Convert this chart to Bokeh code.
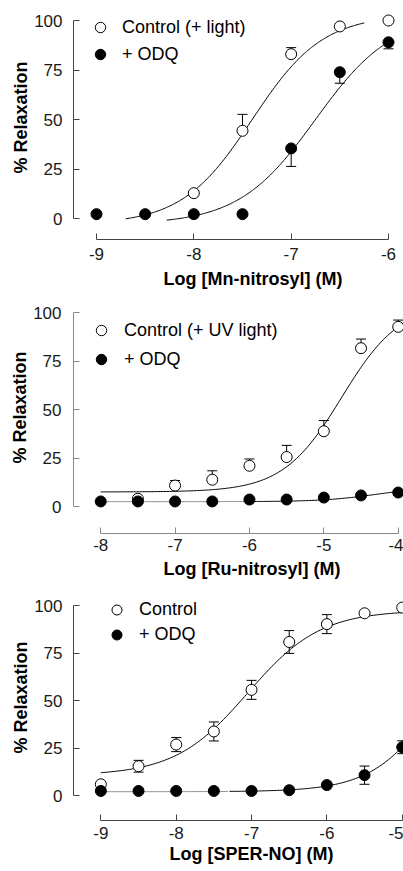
import numpy as np
from bokeh.plotting import figure
from bokeh.layouts import column
from bokeh.models import (Range1d, FixedTicker, Whisker, TeeHead, ColumnDataSource,
                          Legend, LegendItem, Title)
from bokeh.embed import file_html
from bokeh.resources import INLINE

# ---------------- data ----------------
# Panel A: Mn-nitrosyl
mn_ctrl_x = [-8, -7.5, -7, -6.5, -6]
mn_ctrl_y = [12.8, 44.3, 83.0, 97.0, 100.0]
mn_ctrl_err = [0, 8.3, 3.3, 0, 0]
mn_odq_x = [-9, -8.5, -8, -7.5, -7, -6.5, -6]
mn_odq_y = [2.2, 2.2, 2.2, 2.2, 35.4, 73.9, 89.0]
mn_odq_err = [0, 0, 0, 0, 9.1, 5.6, 3.3]
mn_xticks = [-9, -8, -7, -6]
# fitted curves: bottom, top, logEC50, Hill slope, x from, x to
mn_fit_ctrl = [-3, 103, -7.4, 1.2, -8.7, -6.25]
mn_fit_odq = [-3, 103, -6.75, 1.1, -8.28, -6.0]

# Panel B: Ru-nitrosyl
ru_ctrl_x = [-7.5, -7, -6.5, -6, -5.5, -5, -4.5, -4]
ru_ctrl_y = [4.0, 10.8, 13.8, 21.0, 25.5, 38.8, 81.6, 92.6]
ru_ctrl_err = [0, 2.6, 4.6, 3.5, 6.0, 5.5, 4.7, 3.5]
ru_odq_x = [-8, -7.5, -7, -6.5, -6, -5.5, -5, -4.5, -4]
ru_odq_y = [2.6, 2.6, 2.6, 2.6, 3.6, 3.6, 4.6, 5.7, 7.2]
ru_odq_err = [0, 0, 0, 0, 0, 0, 0, 0, 0]
ru_xticks = [-8, -7, -6, -5, -4]
ru_fit_ctrl = [7.5, 105, -4.76, 1.1, -8.0, -4.0]
ru_fit_odq = [2.5, 10, -4.3, 1.2, -8.0, -4.0]

# Panel C: SPER-NO
sp_ctrl_x = [-9, -8.5, -8, -7.5, -7, -6.5, -6, -5.5, -5]
sp_ctrl_y = [5.9, 15.4, 26.8, 33.7, 55.6, 80.8, 90.2, 95.9, 98.9]
sp_ctrl_err = [0, 3.1, 3.7, 5.0, 5.0, 6.0, 5.0, 0, 0]
sp_odq_x = [-9, -8.5, -8, -7.5, -7, -6.5, -6, -5.5, -5]
sp_odq_y = [2.4, 2.4, 2.4, 2.4, 2.4, 2.8, 5.5, 10.7, 25.4]
sp_odq_err = [0, 0, 0, 0, 0, 0, 0, 4.8, 3.4]
sp_xticks = [-9, -8, -7, -6, -5]
sp_fit_ctrl = [10.5, 97.5, -7.05, 0.9, -9.0, -5.0]
sp_fit_odq = [2.0, 100, -4.5, 1.0, -9.0, -5.0]

y_ticks = [0, 25, 50, 75, 100]

FONT = "Liberation Sans"
W = 403


def hill(x, fit):
    bottom, top, logec50, slope = fit[:4]
    return bottom + (top - bottom) / (1 + 10 ** ((logec50 - x) * slope))


def make_panel(g, xt, cx, cy, cerr, cmode, ox, oy, oerr, omode,
               fit_c, fit_o, grey_until, labels, xtitle, axis_color):
    pxx, pxy = g["pxx"], g["pxy"]
    fl, ft, fb, H = g["fl"], g["ft"], g["fb"], g["H"]
    xs = g["x0"] - (g["x0s"] - fl) / pxx
    xe = g["x0"] + (W - g["x0s"]) / pxx
    ys = -(fb - g["y0s"]) / pxy
    ye = (g["y0s"] - ft) / pxy

    p = figure(width=W, height=H, x_range=Range1d(xs, xe), y_range=Range1d(ys, ye),
               output_backend="svg", toolbar_location=None,
               min_border_left=fl, min_border_right=0,
               min_border_top=ft, min_border_bottom=H - fb)
    p.outline_line_color = None
    p.xgrid.visible = False
    p.ygrid.visible = False
    p.background_fill_color = "white"
    p.border_fill_color = "white"

    for ax, ticks in ((p.xaxis, xt), (p.yaxis, y_ticks)):
        ax.ticker = FixedTicker(ticks=ticks)
        ax.bounds = (ticks[0], ticks[-1])
        ax.major_tick_in = 6
        ax.major_tick_out = 0
        ax.minor_tick_line_color = None
        ax.axis_line_color = axis_color
        ax.major_tick_line_color = axis_color
        ax.major_label_text_font = FONT
        ax.major_label_text_font_size = "17px"
        ax.major_label_text_color = "#1a1a1a"
    p.xaxis.major_label_overrides = {t: str(t) for t in xt}
    p.xaxis.major_label_standoff = g["xstand"]
    p.yaxis.major_label_standoff = g["ystand"]

    # fitted curves
    xc = np.linspace(fit_c[4], fit_c[5], 200)
    p.line(xc, hill(xc, fit_c), line_color="black", line_width=1)
    xo = np.linspace(fit_o[4], fit_o[5], 200)
    yo = hill(xo, fit_o)
    if grey_until is not None:
        m1 = xo <= grey_until
        m2 = xo >= grey_until
        p.line(xo[m1], yo[m1], line_color="#8a8a8a", line_width=1)
        p.line(xo[m2], yo[m2], line_color="black", line_width=1)
    else:
        p.line(xo, yo, line_color="black", line_width=1)

    # error bars
    def add_err(xv, yv, ev, mode):
        bx, lo, hi = [], [], []
        for a, b, e in zip(xv, yv, ev):
            if e <= 0:
                continue
            bx.append(a)
            lo.append(b - e if mode in ("down", "both") else b)
            hi.append(b + e if mode in ("up", "both") else b)
        if not bx:
            return
        src = ColumnDataSource(dict(x=bx, lo=lo, hi=hi))
        up = TeeHead(size=10, line_color="black", line_width=1) if mode in ("up", "both") else None
        dn = TeeHead(size=10, line_color="black", line_width=1) if mode in ("down", "both") else None
        w = Whisker(source=src, base="x", lower="lo", upper="hi", dimension="height",
                    line_color="black", line_width=1, upper_head=up, lower_head=dn,
                    level="underlay")
        p.add_layout(w)

    add_err(cx, cy, cerr, cmode)
    add_err(ox, oy, oerr, omode)

    r_c = p.scatter(cx, cy, marker="circle", size=11, fill_color="white",
                    line_color="black", line_width=1)
    r_o = p.scatter(ox, oy, marker="circle", size=11, fill_color="black",
                    line_color="black", line_width=1)

    lg = g["leg"]
    legend = Legend(items=[LegendItem(label=labels[0], renderers=[r_c]),
                           LegendItem(label=labels[1], renderers=[r_o])],
                    location=(lg["vx"], lg["vy"]), padding=0, margin=0,
                    spacing=lg["sp"], glyph_width=lg["gs"], glyph_height=lg["gs"],
                    label_standoff=lg["st"], label_text_font=FONT,
                    label_text_font_size="18px", label_text_color="black",
                    border_line_color=None, background_fill_alpha=0)
    p.add_layout(legend)

    # axis titles
    p.add_layout(Title(text="% Relaxation", align="left", vertical_align="middle",
                       offset=g["yoff"], standoff=0, text_font=FONT, text_font_size="18px",
                       text_font_style="bold", text_color="black"), "left")
    p.add_layout(Title(text=xtitle, align="left", vertical_align="top",
                       offset=g["xoff"], standoff=g["xtstand"], text_font=FONT,
                       text_font_size="18px", text_font_style="bold", text_color="black"),
                 "below")
    return p


g1 = dict(H=300, fl=73, ft=12, fb=239, x0=-9, x0s=96, pxx=97.33, y0s=218, pxy=1.98,
          xstand=8, ystand=11, yoff=66, xoff=90, xtstand=12,
          leg=dict(vx=14, vy=172, sp=1, gs=26, st=9))
g2 = dict(H=290, fl=72, ft=4, fb=233, x0=-8, x0s=99.3, pxx=74.6, y0s=206, pxy=1.94,
          xstand=5, ystand=12, yoff=70, xoff=90, xtstand=10,
          leg=dict(vx=15, vy=161, sp=3, gs=26, st=10))
g3 = dict(H=281, fl=69, ft=7, fb=230, x0=-9, x0s=96.7, pxx=76.25, y0s=205, pxy=1.9,
          xstand=6, ystand=11, yoff=67, xoff=96, xtstand=5,
          leg=dict(vx=31, vy=173, sp=0, gs=25, st=10))

p1 = make_panel(g1, mn_xticks, mn_ctrl_x, mn_ctrl_y, mn_ctrl_err, "up",
                mn_odq_x, mn_odq_y, mn_odq_err, "down", mn_fit_ctrl, mn_fit_odq, None,
                ["Control (+ light)", "+ ODQ"], "Log [Mn-nitrosyl] (M)", "#444444")
p2 = make_panel(g2, ru_xticks, ru_ctrl_x, ru_ctrl_y, ru_ctrl_err, "up",
                ru_odq_x, ru_odq_y, ru_odq_err, "both", ru_fit_ctrl, ru_fit_odq, -6.0,
                ["Control (+ UV light)", "+ ODQ"], "Log [Ru-nitrosyl] (M)", "#888888")
p3 = make_panel(g3, sp_xticks, sp_ctrl_x, sp_ctrl_y, sp_ctrl_err, "both",
                sp_odq_x, sp_odq_y, sp_odq_err, "both", sp_fit_ctrl, sp_fit_odq, -7.3,
                ["Control", "+ ODQ"], "Log [SPER-NO] (M)", "#444444")

layout = column(p1, p2, p3, spacing=0)
open("out.html", "w").write(file_html(layout, INLINE))
